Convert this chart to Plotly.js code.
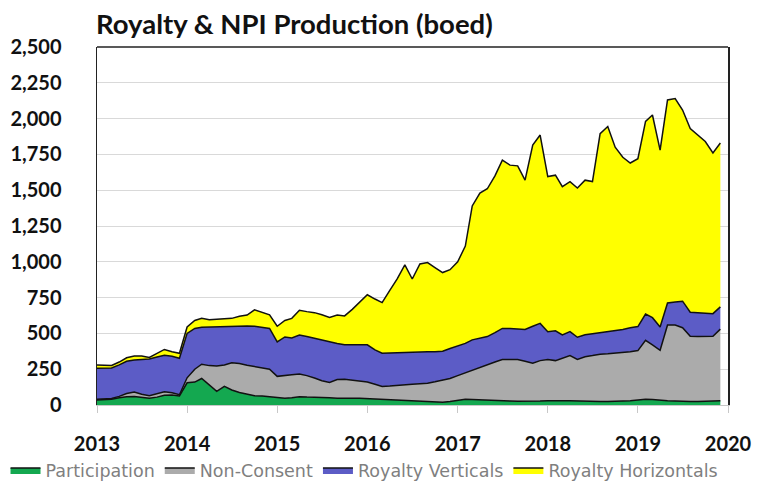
<!DOCTYPE html>
<html>
<head>
<meta charset="utf-8">
<script src="https://cdn.plot.ly/plotly-3.0.1.min.js"></script>
<style>html,body{margin:0;padding:0;background:#fff;}#chart{width:758px;height:483px;}</style>
</head>
<body>
<div id="chart"></div>
<script>
// Monthly data, Jan 2013 - Dec 2019 (boed)
const months = [];
for (let y = 2013; y <= 2019; y++) {
  for (let m = 1; m <= 12; m++) months.push(y + '-' + String(m).padStart(2, '0') + '-01');
}

const participation = [
  35,35,40,50,58,60,52,47,55,68,70,63,
  155,160,185,140,95,130,105,88,75,65,62,58,
  50,48,50,58,55,52,48,50,48,46,47,48,
  45,42,40,40,38,35,30,28,25,20,20,25,
  35,40,38,35,32,30,30,28,26,25,25,28,
  30,28,30,30,28,25,25,25,25,25,28,30,
  35,40,38,32,30,28,25,25,25,25,28,30
];
const nonConsent = [
  5,7,5,10,22,30,23,18,25,24,15,9,
  35,90,100,135,177,150,190,202,203,205,198,192,
  150,160,162,158,150,136,122,108,130,134,128,117,
  115,103,90,92,100,105,115,120,127,142,152,160,
  170,185,207,230,253,270,288,292,292,280,267,282,
  288,282,296,315,290,312,320,330,333,337,337,342,
  345,412,382,350,528,530,515,455,453,453,452,500
];
const royaltyVerticals = [
  216,214,213,220,225,225,243,257,255,256,255,254,
  310,285,258,270,275,268,255,262,274,280,280,285,
  240,267,256,272,273,278,285,280,252,240,245,255,
  260,240,232,231,227,228,227,224,220,210,203,210,
  205,205,210,203,193,205,217,215,215,223,258,260,
  194,208,164,167,155,153,153,150,154,157,163,168,
  168,183,190,163,154,162,185,168,167,164,158,155
];
const royaltyHorizontals = [
  23,22,18,20,25,27,24,10,25,40,32,35,
  45,55,62,50,51,52,55,68,76,115,105,95,
  110,115,137,174,174,179,175,174,198,202,248,300,
  350,355,353,437,515,610,508,613,623,588,550,550,
  590,680,935,1012,1032,1095,1175,1140,1137,1042,1265,1315,
  1083,1087,1035,1048,1042,1080,1062,1390,1433,1281,1202,1150,
  1172,1345,1415,1235,1418,1420,1335,1282,1240,1198,1122,1145
];

const seriesNames = ['Participation', 'Non-Consent', 'Royalty Verticals', 'Royalty Horizontals'];
const seriesValues = [participation, nonConsent, royaltyVerticals, royaltyHorizontals];
const seriesColors = ['#14a850', '#ababab', '#5c5cc6', '#ffff00'];

const yearTicks = ['2013-01-01','2014-01-01','2015-01-01','2016-01-01','2017-01-01','2018-01-01','2019-01-01','2020-01-01'];
const yearLabels = ['2013','2014','2015','2016','2017','2018','2019','2020'];

const traces = seriesValues.map((vals, i) => ({
  x: months,
  y: vals,
  name: seriesNames[i],
  type: 'scatter',
  mode: 'lines',
  stackgroup: 'one',
  fillcolor: seriesColors[i],
  line: {color: '#111111', width: 1.5}
}));

const layout = {
  width: 758,
  height: 483,
  margin: {l: 97, r: 30, t: 47, b: 78, autoexpand: false},
  paper_bgcolor: '#ffffff',
  plot_bgcolor: '#ffffff',
  title: {
    text: 'Royalty & NPI Production (boed)',
    font: {family: 'Lato, sans-serif', size: 27.5, color: '#111111', weight: 'bold'},
    x: 96 / 758, xanchor: 'left', xref: 'container',
    y: 1 - 24 / 483, yanchor: 'middle', yref: 'container'
  },
  xaxis: {
    type: 'date',
    range: ['2013-01-01', '2020-01-01'],
    tickvals: yearTicks,
    ticktext: yearLabels,
    showgrid: false,
    showline: true,
    linecolor: '#c8c8c8',
    linewidth: 1,
    ticks: 'outside',
    ticklen: 7,
    tickcolor: '#c8c8c8',
    ticklabelstandoff: 14,
    tickfont: {family: 'Lato, sans-serif', size: 20, color: '#111111', weight: 'bold'},
    zeroline: false,
    fixedrange: true
  },
  yaxis: {
    range: [0, 2500],
    dtick: 250,
    tick0: 0,
    tickformat: ',d',
    showgrid: true,
    gridcolor: '#d9d9d9',
    gridwidth: 1,
    showline: true,
    mirror: true,
    linecolor: '#222222',
    linewidth: 1.5,
    ticks: '',
    ticklabelstandoff: 30,
    tickfont: {family: 'Lato, sans-serif', size: 20, color: '#111111', weight: 'bold'},
    zeroline: false,
    fixedrange: true
  },
  shapes: [{
    type: 'line', xref: 'paper', yref: 'paper',
    x0: 0, x1: 1, y0: 1, y1: 1,
    line: {color: '#222222', width: 1.5}
  }],
  showlegend: true,
  legend: {
    orientation: 'h',
    x: -0.145, xanchor: 'left',
    y: -0.182, yanchor: 'middle',
    font: {family: 'DejaVu Sans, sans-serif', size: 17.5, color: '#7f7f7f'},
    itemwidth: 30,
    traceorder: 'normal',
    bgcolor: 'rgba(0,0,0,0)'
  },
  hovermode: false
};

Plotly.newPlot('chart', traces, layout, {displayModeBar: false, staticPlot: true});
</script>
</body>
</html>
